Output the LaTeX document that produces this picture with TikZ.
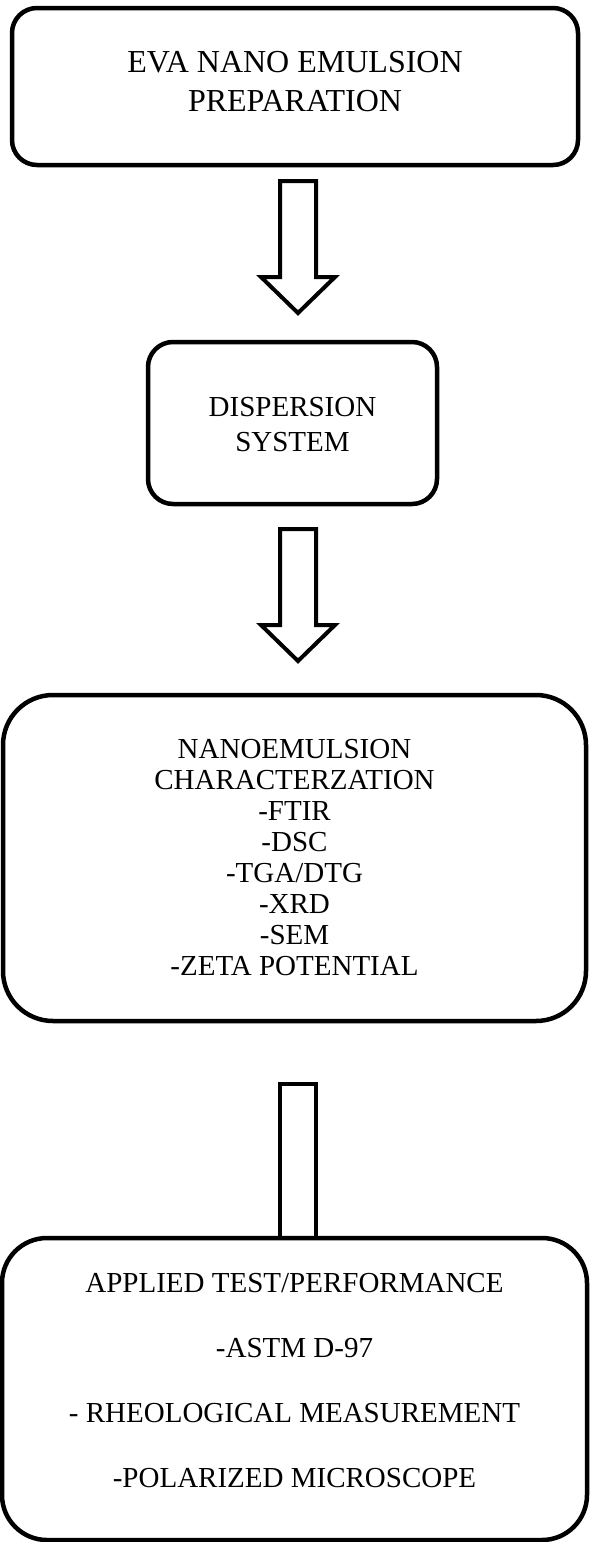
\documentclass[tikz,border=0pt]{standalone}
\usepackage{fontspec}
\setmainfont{Liberation Serif}
\usepackage{tikz}
\usetikzlibrary{calc}
\tikzset{
  stagebox/.style = {draw, line width=4.5pt, rounded corners=25pt, align=center, inner sep=0pt, font=\fontsize{29}{31}\selectfont},
  hollow/.style   = {draw, line width=4pt, fill=white, line join=miter},
}
\newcommand{\hollowarrow}[2]{%
  \draw[hollow] ($(#1)+(-18,0)$) -- ($(#1)+(18,0)$) -- ($(#2)+(18,-36)$) -- ($(#2)+(37,-36)$)
    -- (#2) -- ($(#2)+(-37,-36)$) -- ($(#2)+(-18,-36)$) -- cycle;}
\newcommand{\lowerpad}[1]{\rule[-#1]{0pt}{0pt}}

\begin{document}
\begin{tikzpicture}[x=1pt, y=-1pt]
  \useasboundingbox (0,0) rectangle (589,1542);
  \node[stagebox, minimum width=566pt, minimum height=157pt, font=\fontsize{32}{39}\selectfont] (prep) at (295,86.5)
    {EVA NANO EMULSION\\PREPARATION\lowerpad{10pt}};
  \node[stagebox, minimum width=289pt, minimum height=162pt, font=\fontsize{29}{35}\selectfont] (disp) at (292.5,423)
    {\rule{0pt}{22pt}DISPERSION\\SYSTEM};
  \node[stagebox, rounded corners=50pt, minimum width=583pt, minimum height=326pt] (charac) at (294.5,858)
    {NANOEMULSION\\CHARACTERZATION\\-FTIR\\-DSC\\-TGA/DTG\\-XRD\\-SEM\\-ZETA POTENTIAL};
  \coordinate (a1top) at (298,181);
  \coordinate (a1tip) at (298,313);
  \coordinate (a2top) at (298,529);
  \coordinate (a2tip) at (298,661);
  \coordinate (a3top) at (298,1084);
  \hollowarrow{a1top}{a1tip}
  \hollowarrow{a2top}{a2tip}
  \draw[hollow] ($(a3top)+(-18,0)$) rectangle ($(a3top)+(18,154)$);
  \node[stagebox, rounded corners=45pt, minimum width=585pt, minimum height=302pt, fill=white, font=\fontsize{29}{65}\selectfont] (test) at (294.5,1389)
    {APPLIED TEST/PERFORMANCE\\-ASTM D-97\\- RHEOLOGICAL MEASUREMENT\\-POLARIZED MICROSCOPE\lowerpad{18pt}};
\end{tikzpicture}
\end{document}
